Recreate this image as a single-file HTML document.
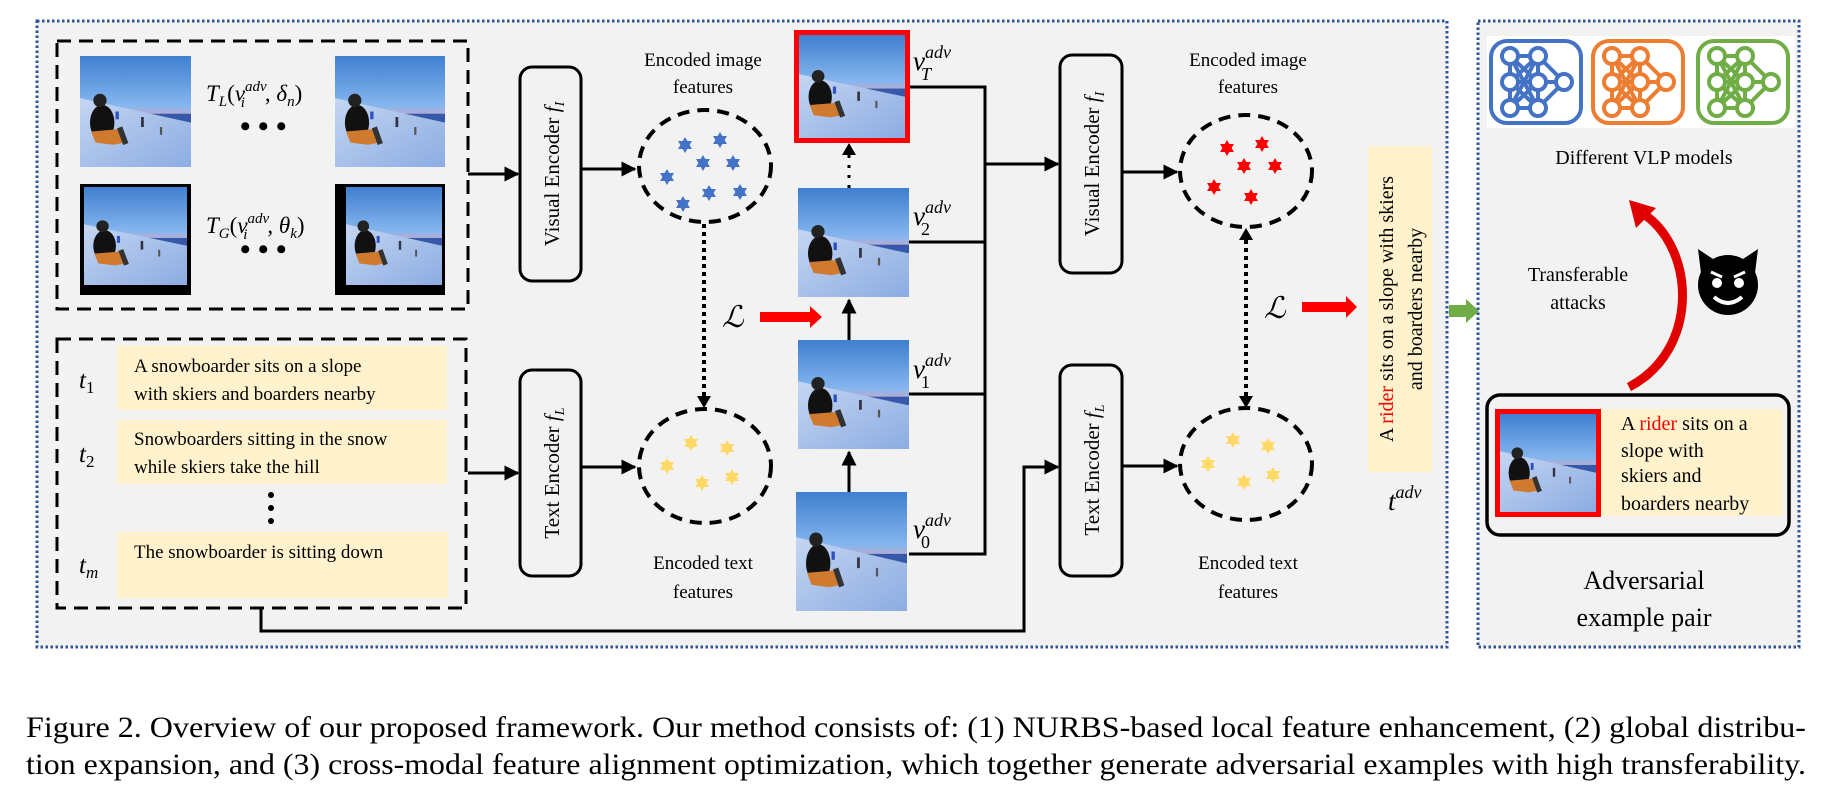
<!DOCTYPE html>
<html><head><meta charset="utf-8"><style>
html,body{margin:0;padding:0;background:#fff;width:1834px;height:787px;overflow:hidden}
svg{display:block}
text{font-family:"Liberation Serif",serif;fill:#000}
.it{font-style:italic}
</style></head><body>
<svg width="1834" height="787" viewBox="0 0 1834 787" xmlns="http://www.w3.org/2000/svg">
<defs>
<linearGradient id="sky" x1="0" y1="0" x2="0" y2="1"><stop offset="0" stop-color="#3f7fd0"/><stop offset="0.45" stop-color="#86b6ee"/><stop offset="0.55" stop-color="#c8a8c8"/></linearGradient>
<linearGradient id="snow" x1="0" y1="0" x2="1" y2="1"><stop offset="0" stop-color="#c4d6f2"/><stop offset="1" stop-color="#8cace2"/></linearGradient>
<symbol id="photo" viewBox="0 0 100 100" preserveAspectRatio="none">
<rect width="100" height="100" fill="url(#sky)"/>
<rect x="40" y="52" width="60" height="8" fill="#3558a8"/>
<polygon points="0,38 100,60 100,100 0,100" fill="url(#snow)"/>
<ellipse cx="20" cy="60" rx="11" ry="16" fill="#111"/>
<circle cx="18" cy="40" r="6" fill="#222"/>
<path d="M10 68 L34 66 L40 78 L30 80 L14 78Z" fill="#d07a30"/>
<rect x="36" y="64" width="5" height="16" fill="#333" transform="rotate(-20 38 72)"/>
<rect x="32" y="50" width="3" height="7" fill="#3050c0"/>
<rect x="55" y="55" width="2.5" height="9" fill="#334"/>
<rect x="72" y="64" width="2" height="7" fill="#555"/>
</symbol>
<symbol id="star" viewBox="-10 -10 20 20"><polygon points="0,-10 8.66,5 -8.66,5"/><polygon points="0,10 8.66,-5 -8.66,-5"/></symbol>
<marker id="ah" viewBox="0 0 10 10" refX="9" refY="5" markerWidth="5" markerHeight="5" orient="auto"><path d="M0,0 L10,5 L0,10z" fill="#000"/></marker>
<symbol id="net" viewBox="0 0 96 88">
<g stroke="currentColor" stroke-width="4" fill="none">
<rect x="3" y="3" width="90" height="82" rx="16"/>
<path d="M22 18 L50 18 M22 44 L50 44 M22 70 L50 70 M22 18 L50 44 M22 18 L50 70 M22 44 L50 18 M22 44 L50 70 M22 70 L50 18 M22 70 L50 44 M50 18 L76 44 M50 44 L76 44 M50 70 L76 44 M22 18 L22 70 M50 18 L50 70"/>
<g fill="#fff"><circle cx="22" cy="18" r="8"/><circle cx="50" cy="18" r="8"/><circle cx="22" cy="44" r="8"/><circle cx="50" cy="44" r="8"/><circle cx="22" cy="70" r="8"/><circle cx="50" cy="70" r="8"/><circle cx="76" cy="44" r="8"/></g>
</g></symbol>
</defs>

<rect x="37" y="21" width="1410" height="626" fill="#f2f2f2" stroke="#2f5597" stroke-width="3" stroke-dasharray="2.5 2.5"/>
<rect x="1478" y="21" width="321" height="626" fill="#f2f2f2" stroke="#2f5597" stroke-width="3" stroke-dasharray="2.5 2.5"/>

<rect x="57" y="41" width="411" height="268" fill="none" stroke="#000" stroke-width="3" stroke-dasharray="14 8"/>
<use href="#photo" x="80" y="56" width="111" height="111"/>
<use href="#photo" x="335" y="56" width="110" height="111"/>
<rect x="80" y="184" width="111" height="111" fill="#000"/>
<use href="#photo" x="84" y="187" width="103" height="98"/>
<rect x="335" y="184" width="110" height="111" fill="#000"/>
<use href="#photo" x="346" y="187" width="96" height="98"/>
<text x="206" y="101" font-size="23" class="it">T<tspan font-size="15" dy="5">L</tspan><tspan dy="-5" font-style="normal">(</tspan>v<tspan font-size="15" dy="-10">adv</tspan><tspan font-size="15" dx="-26" dy="16">i</tspan><tspan dx="20" dy="-6" font-style="normal">, </tspan>δ<tspan font-size="15" dy="5">n</tspan><tspan dy="-5" font-style="normal">)</tspan></text>
<text x="240" y="136" font-size="30" font-weight="bold">• • •</text>
<text x="206" y="233" font-size="23" class="it">T<tspan font-size="15" dy="5">G</tspan><tspan dy="-5" font-style="normal">(</tspan>v<tspan font-size="15" dy="-10">adv</tspan><tspan font-size="15" dx="-26" dy="16">i</tspan><tspan dx="20" dy="-6" font-style="normal">, </tspan>θ<tspan font-size="15" dy="5">k</tspan><tspan dy="-5" font-style="normal">)</tspan></text>
<text x="240" y="259" font-size="30" font-weight="bold">• • •</text>

<rect x="57" y="339" width="409" height="269" fill="none" stroke="#000" stroke-width="3" stroke-dasharray="14 8"/>
<rect x="117" y="346" width="330" height="64" fill="#fff2cc"/>
<rect x="117" y="420" width="330" height="64" fill="#fff2cc"/>
<rect x="117" y="532" width="331" height="66" fill="#fff2cc"/>
<text x="134" y="372" font-size="19">A snowboarder sits on a slope</text>
<text x="134" y="400" font-size="19">with skiers and boarders nearby</text>
<text x="134" y="445" font-size="19">Snowboarders sitting in the snow</text>
<text x="134" y="473" font-size="19">while skiers take the hill</text>
<text x="134" y="558" font-size="19">The snowboarder is sitting down</text>
<circle cx="271" cy="495" r="3"/><circle cx="271" cy="508" r="3"/><circle cx="271" cy="521" r="3"/>
<text x="79" y="388" font-size="25" class="it">t<tspan font-size="17" font-style="normal" dy="5">1</tspan></text>
<text x="79" y="462" font-size="25" class="it">t<tspan font-size="17" font-style="normal" dy="5">2</tspan></text>
<text x="79" y="573" font-size="25" class="it">t<tspan font-size="17" dy="5">m</tspan></text>

<g fill="none" stroke="#000" stroke-width="3">
<rect x="520" y="67" width="61" height="214" rx="12"/>
<rect x="520" y="370" width="61" height="206" rx="12"/>
<rect x="1060" y="55" width="62" height="218" rx="12"/>
<rect x="1060" y="365" width="62" height="211" rx="12"/>
</g>
<text transform="translate(559 174) rotate(-90)" text-anchor="middle" font-size="21">Visual Encoder <tspan class="it">f</tspan><tspan class="it" font-size="14" dy="5">I</tspan></text>
<text transform="translate(559 473) rotate(-90)" text-anchor="middle" font-size="21">Text Encoder <tspan class="it">f</tspan><tspan class="it" font-size="14" dy="5">L</tspan></text>
<text transform="translate(1099 164) rotate(-90)" text-anchor="middle" font-size="21">Visual Encoder <tspan class="it">f</tspan><tspan class="it" font-size="14" dy="5">I</tspan></text>
<text transform="translate(1099 470) rotate(-90)" text-anchor="middle" font-size="21">Text Encoder <tspan class="it">f</tspan><tspan class="it" font-size="14" dy="5">L</tspan></text>

<g stroke="#000" stroke-width="3" fill="none" marker-end="url(#ah)">
<path d="M468 174 H518"/>
<path d="M468 473 H518"/>
<path d="M581 169 H635"/>
<path d="M581 467 H635"/>
<path d="M1122 172 H1177"/>
<path d="M1122 466 H1177"/>
<path d="M985 164 H1058"/>
<path d="M261 608 V631 H1024 V467 H1058"/>
<path d="M849 492 V452"/>
<path d="M849 340 V300"/>
</g>
<path d="M909 87 H985 V554 H909 M909 242 H985 M909 394 H985" stroke="#000" stroke-width="3" fill="none"/>
<path d="M849 188 V150" stroke="#000" stroke-width="3" stroke-dasharray="3 7" fill="none"/>
<polygon points="842,155 856,155 849,143" fill="#000"/>

<g fill="none" stroke="#000" stroke-width="4" stroke-dasharray="12 8">
<ellipse cx="705" cy="166" rx="66" ry="56"/>
<ellipse cx="705" cy="466" rx="66" ry="57"/>
<ellipse cx="1246" cy="171" rx="66" ry="56"/>
<ellipse cx="1246" cy="464" rx="66" ry="56"/>
</g>
<path d="M704 224 V398" stroke="#000" stroke-width="4" stroke-dasharray="4 4"/>
<polygon points="697,396 711,396 704,408" fill="#000"/>
<path d="M1246 240 V396" stroke="#000" stroke-width="4" stroke-dasharray="4 4"/>
<polygon points="1239,240 1253,240 1246,228" fill="#000"/>
<polygon points="1239,396 1253,396 1246,408" fill="#000"/>

<g fill="#4472c4">
<use href="#star" x="677" y="137" width="16" height="16"/><use href="#star" x="712" y="132" width="16" height="16"/><use href="#star" x="695" y="155" width="16" height="16"/><use href="#star" x="725" y="155" width="16" height="16"/><use href="#star" x="659" y="169" width="16" height="16"/><use href="#star" x="701" y="185" width="16" height="16"/><use href="#star" x="732" y="184" width="16" height="16"/><use href="#star" x="675" y="196" width="16" height="16"/>
</g>
<g fill="#ffd966">
<use href="#star" x="683" y="435" width="16" height="16"/><use href="#star" x="719" y="440" width="16" height="16"/><use href="#star" x="659" y="458" width="16" height="16"/><use href="#star" x="694" y="475" width="16" height="16"/><use href="#star" x="724" y="469" width="16" height="16"/>
<use href="#star" x="1225" y="432" width="16" height="16"/><use href="#star" x="1260" y="438" width="16" height="16"/><use href="#star" x="1200" y="456" width="16" height="16"/><use href="#star" x="1236" y="474" width="16" height="16"/><use href="#star" x="1265" y="467" width="16" height="16"/>
</g>
<g fill="#ff0000">
<use href="#star" x="1219" y="140" width="16" height="16"/><use href="#star" x="1254" y="136" width="16" height="16"/><use href="#star" x="1236" y="158" width="16" height="16"/><use href="#star" x="1267" y="158" width="16" height="16"/><use href="#star" x="1206" y="179" width="16" height="16"/><use href="#star" x="1243" y="189" width="16" height="16"/>
</g>

<text x="703" y="66" font-size="19" text-anchor="middle">Encoded image</text>
<text x="703" y="93" font-size="19" text-anchor="middle">features</text>
<text x="703" y="569" font-size="19" text-anchor="middle">Encoded text</text>
<text x="703" y="598" font-size="19" text-anchor="middle">features</text>
<text x="1248" y="66" font-size="19" text-anchor="middle">Encoded image</text>
<text x="1248" y="93" font-size="19" text-anchor="middle">features</text>
<text x="1248" y="569" font-size="19" text-anchor="middle">Encoded text</text>
<text x="1248" y="598" font-size="19" text-anchor="middle">features</text>

<rect x="794" y="30" width="116" height="113" fill="#ff0000"/>
<use href="#photo" x="799" y="35" width="106" height="103"/>
<use href="#photo" x="798" y="188" width="111" height="109"/>
<use href="#photo" x="798" y="340" width="111" height="109"/>
<use href="#photo" x="796" y="492" width="111" height="119"/>
<g font-size="27" class="it">
<text x="913" y="70">v<tspan font-size="18" dy="-12">adv</tspan><tspan font-size="18" dx="-30" dy="22">T</tspan></text>
<text x="913" y="225">v<tspan font-size="18" dy="-12">adv</tspan><tspan font-size="18" font-style="normal" dx="-30" dy="22">2</tspan></text>
<text x="913" y="378">v<tspan font-size="18" dy="-12">adv</tspan><tspan font-size="18" font-style="normal" dx="-30" dy="22">1</tspan></text>
<text x="913" y="538">v<tspan font-size="18" dy="-12">adv</tspan><tspan font-size="18" font-style="normal" dx="-30" dy="22">0</tspan></text>
</g>

<text x="722" y="327" font-size="30" class="it">ℒ</text>
<polygon points="760,312 810,312 810,306 822,317 810,328 810,322 760,322" fill="#ff0000"/>
<text x="1264" y="318" font-size="30" class="it">ℒ</text>
<polygon points="1302,302 1346,302 1346,296 1357,307 1346,318 1346,312 1302,312" fill="#ff0000"/>

<rect x="1368" y="146" width="64" height="326" fill="#fff2cc"/>
<text transform="translate(1393 309) rotate(-90)" text-anchor="middle" font-size="20">A <tspan fill="#ff0000">rider</tspan> sits on a slope with skiers</text>
<text transform="translate(1422 309) rotate(-90)" text-anchor="middle" font-size="20">and boarders nearby</text>
<text x="1388" y="510" font-size="27" class="it">t<tspan font-size="18" dy="-12">adv</tspan></text>

<polygon points="1449,305 1466,305 1466,299 1479,311 1466,323 1466,317 1449,317" fill="#70ad47"/>

<rect x="1487" y="36" width="308" height="92" fill="#fff"/>
<use href="#net" x="1488" y="38" width="96" height="88" color="#4472c4"/>
<use href="#net" x="1590" y="38" width="96" height="88" color="#ed7d31"/>
<use href="#net" x="1695" y="38" width="96" height="88" color="#70ad47"/>
<text x="1644" y="164" font-size="20" text-anchor="middle">Different VLP models</text>
<text x="1578" y="281" font-size="20" text-anchor="middle">Transferable</text>
<text x="1578" y="309" font-size="20" text-anchor="middle">attacks</text>
<path d="M1629 387 C1700 350 1695 250 1645 215" stroke="#e00000" stroke-width="9" fill="none"/>
<polygon points="1629,200 1656,208 1636,228" fill="#e00000"/>
<g transform="translate(1728 285)">
<path d="M-27 -12 L-30 -36 L-12 -24 Z M27 -12 L30 -36 L12 -24 Z" fill="#000"/>
<circle r="30" fill="#000"/>
<circle cx="-11" cy="-2" r="5" fill="#fff"/><circle cx="11" cy="-2" r="5" fill="#fff"/>
<path d="M-17 -13 L-6 -8 M17 -13 L6 -8" stroke="#fff" stroke-width="3"/>
<path d="M-14 12 Q0 24 14 12" stroke="#fff" stroke-width="4" fill="none"/>
</g>
<rect x="1487" y="395" width="302" height="140" rx="13" fill="none" stroke="#000" stroke-width="3.5"/>
<rect x="1601" y="409" width="182" height="107" fill="#fff2cc"/>
<rect x="1495" y="409" width="106" height="108" fill="#ff0000"/>
<use href="#photo" x="1500" y="414" width="96" height="98"/>
<g font-size="20">
<text x="1621" y="430">A <tspan fill="#ff0000">rider</tspan> sits on a</text>
<text x="1621" y="457">slope with</text>
<text x="1621" y="482">skiers and</text>
<text x="1621" y="510">boarders nearby</text>
</g>
<text x="1644" y="589" font-size="26" text-anchor="middle">Adversarial</text>
<text x="1644" y="626" font-size="26" text-anchor="middle">example pair</text>

<text x="26" y="737" font-size="30" textLength="1780" lengthAdjust="spacingAndGlyphs">Figure 2. Overview of our proposed framework. Our method consists of: (1) NURBS-based local feature enhancement, (2) global distribu-</text>
<text x="26" y="774" font-size="30" textLength="1780" lengthAdjust="spacingAndGlyphs">tion expansion, and (3) cross-modal feature alignment optimization, which together generate adversarial examples with high transferability.</text>
</svg>
</body></html>
